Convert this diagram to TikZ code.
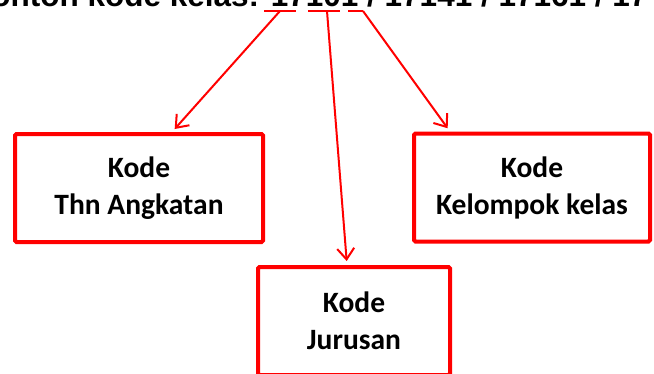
\documentclass[tikz,border=0pt]{standalone}
\usepackage{fontspec}
\setmainfont{Carlito}
\newfontfamily\judulfont{Liberation Sans}
\usetikzlibrary{positioning}
\usetikzlibrary{arrows.meta,calc}
\tikzset{
    kodediag/.style={x=1pt,y=-1pt,>={Straight Barb[length=11pt,width=17pt]}},
    kodebox/.style={draw=red, line width=4pt, rounded corners=1.5pt,
                     minimum height=108pt, align=center, inner sep=0pt,
                     font=\bfseries\fontsize{29.5}{37}\selectfont},
    garis/.style={red, line width=2pt},
    panah/.style={garis, ->, shorten >=4pt},
    }

\begin{document}
\begin{tikzpicture}[kodediag]
            \useasboundingbox (0,0) rectangle (654,373);
            \node[anchor=base west, inner sep=0pt,
                  font=\judulfont\bfseries\fontsize{31.5}{36}\selectfont]
                  (judul) at (-31.5,6) {Contoh kode kelas: 17101 / 17141 / 17161 / 17};

            \node[kodebox, minimum width=248pt] (thn) at (139,188) {Kode\\Thn Angkatan};
            \node[kodebox, minimum width=236pt] (klp) at (532,187.5) {Kode\\Kelompok kelas};
            \node[kodebox, minimum width=192pt] (jur) at (354,321) {Kode\\Jurusan};

            % garis bawah angka
            \coordinate (u1a) at (264,11);
            \coordinate (u1b) at (296,11);
            \coordinate (u1m) at (280,11);
            \coordinate (u2a) at (308,11);
            \coordinate (u2b) at (340,11);
            \coordinate (u2m) at (327,11);
            \coordinate (u3a) at (348,11);
            \coordinate (u3b) at (363,11);
            \draw[garis] (u1a) -- (u1b);
            \draw[garis] (u2a) -- (u2b);
            \draw[garis] (u3a) -- (u3b);

            \draw[panah] (u1m) -- ([xshift=33pt]thn.north);
            \draw[panah] (u2m) -- ([xshift=-7pt]jur.north);
            \draw[panah] (u3b) -- ([xshift=-82pt]klp.north);
        \end{tikzpicture}
\end{document}
